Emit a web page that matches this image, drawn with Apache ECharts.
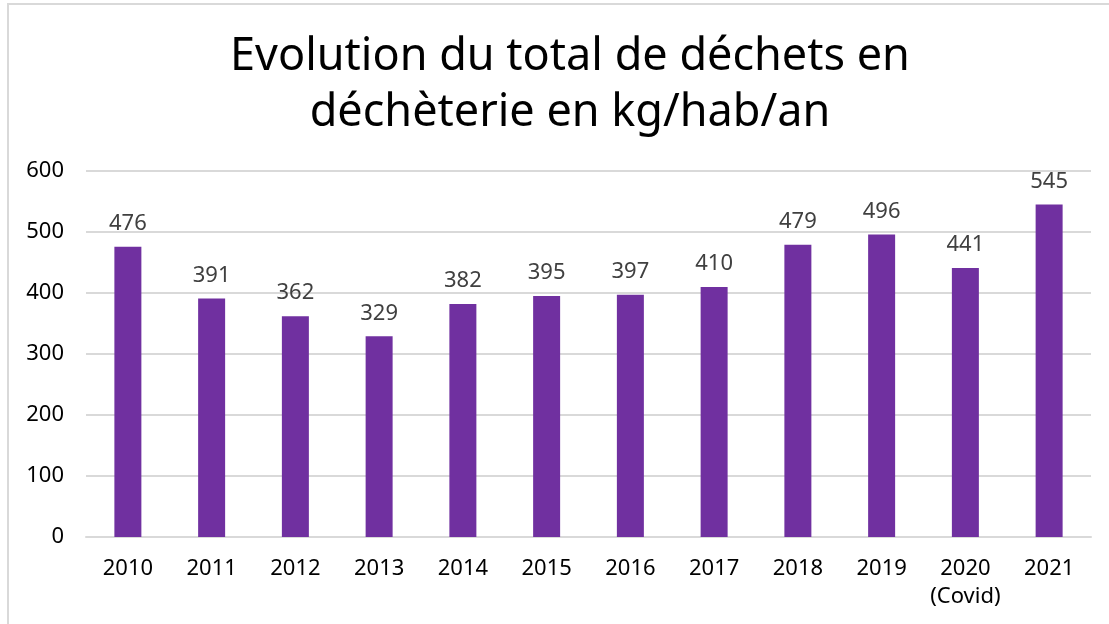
<!DOCTYPE html>
<html><head><meta charset="utf-8">
<script src="https://cdn.jsdelivr.net/npm/echarts@6/dist/echarts.min.js"></script>
<style>html,body{margin:0;padding:0;background:#fff}#c{width:1109px;height:624px}</style>
</head><body><div id="c"></div>
<script>
const categories = ['2010','2011','2012','2013','2014','2015','2016','2017','2018','2019','2020\n(Covid)','2021'];
const values = [476,391,362,329,382,395,397,410,479,496,441,545];
const yTicks = {min:0, max:600, interval:100};
const titleText = 'Evolution du total de déchets en\ndéchèterie en kg/hab/an';

const chart = echarts.init(document.getElementById('c'), null, {renderer:'canvas'});
const FONT = 'Noto Sans';
chart.setOption({
  animation:false,
  backgroundColor:'#fff',
  graphic:[{type:'rect', shape:{x:8,y:4,width:1200,height:700}, style:{fill:'none', stroke:'#d9d9d9', lineWidth:2}, silent:true}],
  title:{text:titleText, left:565, top:24, textAlign:'center',
    textStyle:{fontFamily:FONT, fontSize:45, fontWeight:'normal', color:'#000', lineHeight:56}},
  grid:{left:86, right:18, top:171, bottom:87, containLabel:false},
  xAxis:{type:'category', data:categories,
    axisLine:{lineStyle:{color:'#d9d9d9', width:2}}, axisTick:{show:false},
    axisLabel:{fontFamily:FONT, fontSize:22, color:'#000', margin:18, lineHeight:28, interval:0}},
  yAxis:{type:'value', min:yTicks.min, max:yTicks.max, interval:yTicks.interval,
    axisLine:{show:false}, axisTick:{show:false},
    splitLine:{lineStyle:{color:'#d9d9d9', width:2}},
    axisLabel:{fontFamily:FONT, fontSize:22, color:'#000', margin:22}},
  series:[{type:'bar', data:values, barWidth:27, itemStyle:{color:'#7030A0'},
    label:{show:true, position:'top', distance:12, fontFamily:FONT, fontSize:22, color:'#404040'}}]
});
</script></body></html>
